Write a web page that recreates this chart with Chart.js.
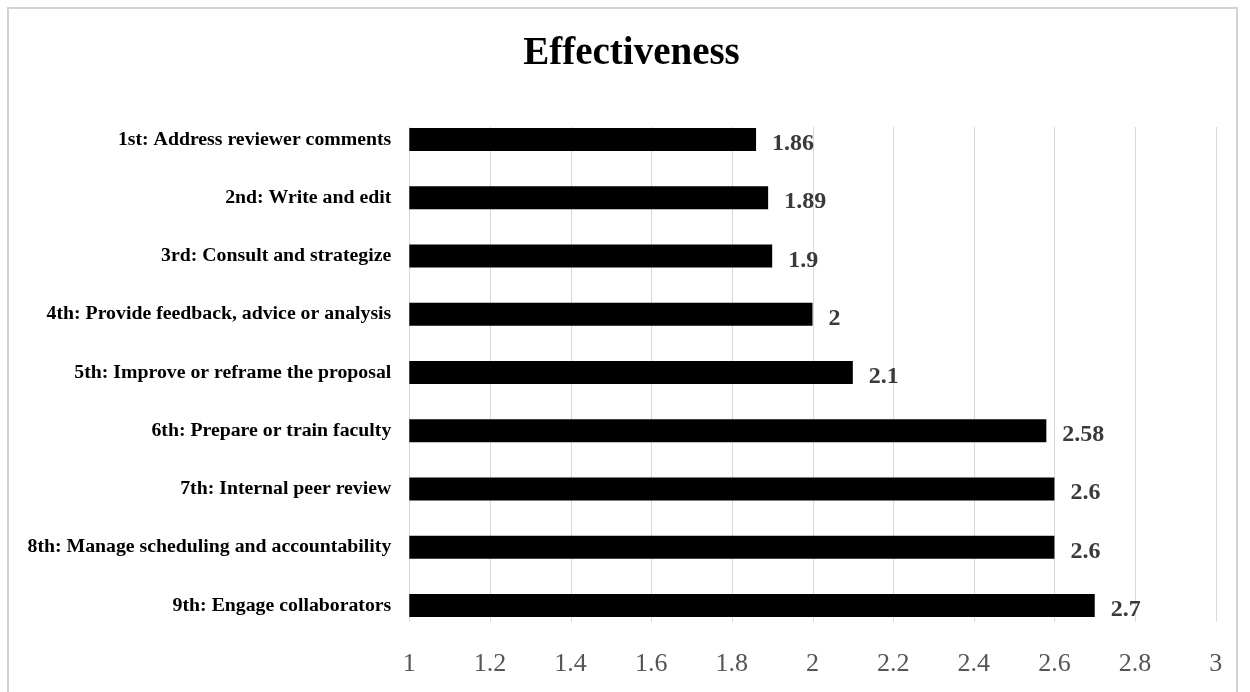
<!DOCTYPE html>
<html>
<head>
<meta charset="utf-8">
<title>Effectiveness</title>
<script src="https://cdn.jsdelivr.net/npm/chart.js@4.4.1/dist/chart.umd.min.js"></script>
<style>
  html, body { margin: 0; padding: 0; background: #ffffff; overflow: hidden; }
  #wrap { position: relative; width: 1250px; height: 692px; }
  #frame {
    position: absolute; left: 7px; top: 7px; width: 1231px; height: 700px;
    border: 2px solid #d2d2d2; box-sizing: border-box; pointer-events: none;
  }
  canvas { position: absolute; left: 0; top: 0; }
</style>
</head>
<body>
<div id="wrap">
  <canvas id="chart" width="1250" height="692"></canvas>
  <div id="frame"></div>
</div>
<script>
// Ranked support activities and their mean effectiveness scores
const categories = [
  "1st: Address reviewer comments",
  "2nd: Write and edit",
  "3rd: Consult and strategize",
  "4th: Provide feedback, advice or analysis",
  "5th: Improve or reframe the proposal",
  "6th: Prepare or train faculty",
  "7th: Internal peer review",
  "8th: Manage scheduling and accountability",
  "9th: Engage collaborators"
];
const effectiveness = [1.86, 1.89, 1.9, 2, 2.1, 2.58, 2.6, 2.6, 2.7];
const axisMin = 1;
const axisMax = 3;
const axisStep = 0.2;

const SERIF = "'Liberation Serif', 'Times New Roman', Times, serif";

// Vertical gridlines drawn at each value tick, spanning the bar rows
const rowGrid = {
  id: 'rowGrid',
  beforeDatasetsDraw(chart) {
    const x = chart.scales.x, y = chart.scales.y;
    const n = chart.data.labels.length;
    const band = y.getPixelForValue(1) - y.getPixelForValue(0);
    const top = y.getPixelForValue(0) - band * 0.215;
    const bottom = y.getPixelForValue(n - 1) + band * 0.28;
    const ctx = chart.ctx;
    ctx.save();
    ctx.strokeStyle = '#d9d9d9';
    ctx.lineWidth = 1;
    x.ticks.forEach(t => {
      const px = Math.round(x.getPixelForValue(t.value)) + 0.5;
      ctx.beginPath();
      ctx.moveTo(px, top);
      ctx.lineTo(px, bottom);
      ctx.stroke();
    });
    ctx.restore();
  }
};

// Value labels placed just past the end of each bar
const valueLabels = {
  id: 'valueLabels',
  afterDatasetsDraw(chart) {
    const ctx = chart.ctx;
    const meta = chart.getDatasetMeta(0);
    ctx.save();
    ctx.font = 'bold 24px ' + SERIF;
    ctx.fillStyle = '#3a3a3a';
    ctx.textAlign = 'left';
    ctx.textBaseline = 'alphabetic';
    meta.data.forEach((bar, i) => {
      ctx.fillText(String(chart.data.datasets[0].data[i]), bar.x + 16, bar.y + 10.5);
    });
    ctx.restore();
  }
};

new Chart(document.getElementById('chart'), {
  type: 'bar',
  data: {
    labels: categories,
    datasets: [{
      data: effectiveness,
      backgroundColor: '#000000',
      borderWidth: 0,
      barPercentage: 0.395,
      categoryPercentage: 1.0
    }]
  },
  options: {
    indexAxis: 'y',
    responsive: false,
    animation: false,
    devicePixelRatio: 1,
    layout: { padding: { left: 13, right: 0, top: 0, bottom: 0 } },
    plugins: {
      legend: { display: false },
      tooltip: { enabled: false },
      title: {
        display: true,
        text: 'Effectiveness',
        color: '#000000',
        font: { family: SERIF, size: 39, weight: 'bold', lineHeight: 1.2 },
        padding: { top: 31, bottom: 32.6 }
      }
    },
    scales: {
      x: {
        type: 'linear',
        min: axisMin,
        max: axisMax,
        grid: { display: false, drawTicks: false },
        border: { display: false },
        ticks: {
          stepSize: axisStep,
          padding: 14,
          color: '#555555',
          font: { family: SERIF, size: 26 },
          callback: v => String(parseFloat(Number(v).toFixed(1)))
        },
        afterFit: s => { s.height = 57.4; }
      },
      y: {
        type: 'category',
        grid: { display: false, drawTicks: false },
        border: { display: false },
        ticks: {
          autoSkip: false,
          padding: 18,
          color: '#000000',
          font: { family: SERIF, size: 19.8, weight: 'bold' }
        },
        afterFit: s => { s.width = 396.3; }
      },
      yRight: {
        type: 'linear',
        position: 'right',
        display: true,
        grid: { display: false, drawTicks: false },
        border: { display: false },
        ticks: { display: false },
        afterFit: s => { s.width = 34.3; }
      }
    }
  },
  plugins: [rowGrid, valueLabels]
});
</script>
</body>
</html>
